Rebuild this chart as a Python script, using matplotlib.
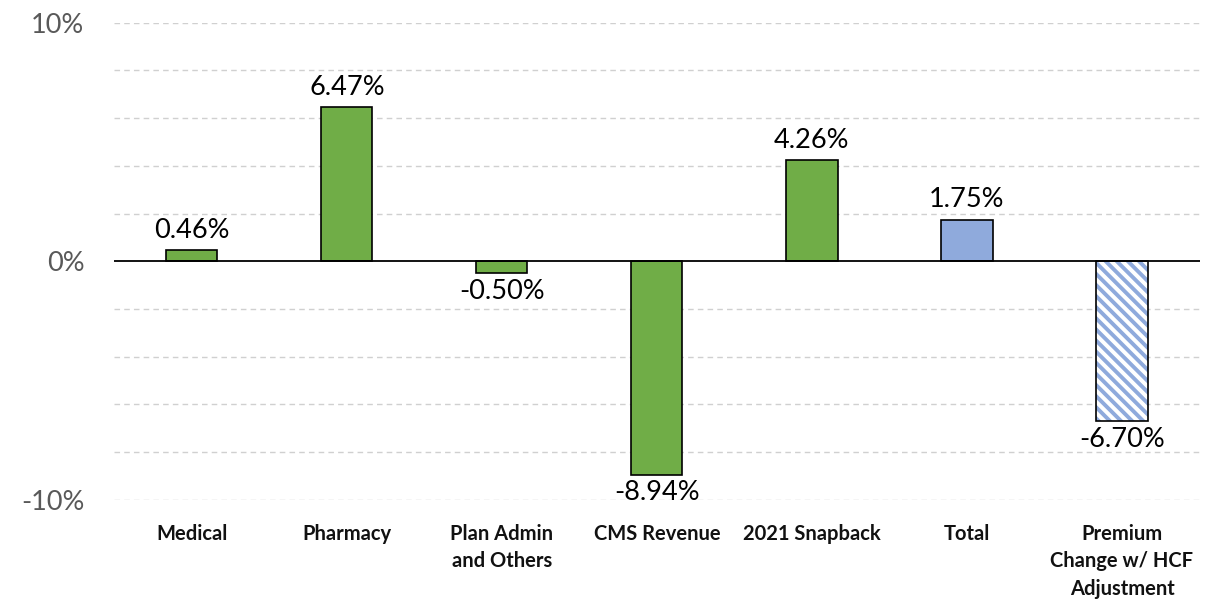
import matplotlib
matplotlib.use("Agg")
import matplotlib.pyplot as plt
import numpy as np

categories = ["Medical", "Pharmacy", "Plan Admin\nand Others", "CMS Revenue",
              "2021 Snapback", "Total", "Premium\nChange w/ HCF\nAdjustment"]
values = [0.46, 6.47, -0.50, -8.94, 4.26, 1.75, -6.70]
labels = ["0.46%", "6.47%", "-0.50%", "-8.94%", "4.26%", "1.75%", "-6.70%"]

green = "#70AD47"
blue = "#8FAADC"

plt.rcParams['font.family'] = ['Lato', 'DejaVu Sans']
plt.rcParams['hatch.linewidth'] = 2.8

fig = plt.figure(figsize=(12.29, 6), dpi=100)
ax = fig.add_axes([0.093, 0.167, 0.883, 0.795])

x = np.arange(len(categories))
w = 0.33

# green component bars
ax.bar(x[:5], values[:5], width=w, color=green, edgecolor="black", linewidth=1.2, zorder=3)
# total
ax.bar(x[5], values[5], width=w, color=blue, edgecolor="black", linewidth=1.2, zorder=3)
# hatched premium change bar
ax.bar(x[6], values[6], width=w, color="white", edgecolor=blue, hatch="\\\\\\", linewidth=0, zorder=3)
ax.bar(x[6], values[6], width=w, color="none", edgecolor="black", linewidth=1.2, zorder=4)

for xi, v, lab in zip(x, values, labels):
    if v >= 0:
        ax.text(xi, v + 0.3, lab, ha="center", va="bottom", fontsize=19.5, color="black")
    else:
        ax.text(xi, v - 0.25, lab, ha="center", va="top", fontsize=19.5, color="black")

ax.set_xlim(-0.5, len(categories) - 0.5)
ax.set_ylim(-10, 10)
ax.set_yticks([-10, 0, 10])
ax.set_yticklabels(["-10%", "0%", "10%"], fontsize=19.5, color="#595959")
for g in np.arange(-10, 11, 2):
    if g != 0:
        ax.axhline(g, color="#D0D0D0", linestyle=(0, (4, 3)), linewidth=1, zorder=1)
ax.axhline(0, color="black", linewidth=1.3, zorder=5)

ax.set_xticks(x)
ax.set_xticklabels(categories, fontsize=14.5, fontweight="bold", color="#111111", linespacing=1.45)
ax.xaxis.set_ticks_position("none")
ax.yaxis.set_ticks_position("none")
ax.tick_params(axis="x", pad=14)
ax.tick_params(axis="y", pad=18)
for s in ax.spines.values():
    s.set_visible(False)

fig.savefig("out.png", dpi=100)
